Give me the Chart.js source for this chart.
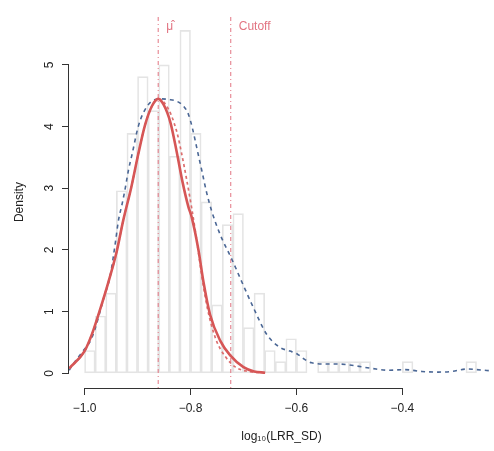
<!DOCTYPE html>
<html>
<head>
<meta charset="utf-8">
<script src="https://cdn.jsdelivr.net/npm/chart.js@4.4.0/dist/chart.umd.min.js"></script>
<style>
  html, body { margin: 0; padding: 0; background: #ffffff; }
  #wrap { width: 494px; height: 451px; }
</style>
</head>
<body>
<div id="wrap"><canvas id="c" width="494" height="451"></canvas></div>
<script>
// ---------- data ----------
const histBinCenters = [-0.99,-0.97,-0.95,-0.93,-0.91,-0.89,-0.87,-0.85,-0.83,-0.81,-0.79,-0.77,-0.75,-0.73,-0.71,-0.69,-0.67,-0.65,-0.63,-0.61,-0.59,-0.57,-0.55,-0.53,-0.51,-0.49,-0.47,-0.45,-0.43,-0.41,-0.39,-0.37,-0.35,-0.33,-0.31,-0.29,-0.27];
const histDensity    = [0.37,0.93,1.30,2.96,3.89,4.81,4.26,5.00,3.52,5.56,3.89,2.78,1.11,2.41,2.59,0.74,1.30,0.37,0.19,0.56,0.37,null,0.19,0.19,0.19,0.19,0.19,null,null,null,0.19,null,null,null,null,null,0.19];

const normalX = [-1.029,-1.000,-0.985,-0.972,-0.955,-0.940,-0.927,-0.912,-0.899,-0.886,-0.873,-0.861,-0.851,-0.838,-0.826,-0.815,-0.804,-0.798,-0.785,-0.7755,-0.763,-0.744,-0.725,-0.700,-0.680,-0.659];
const normalY = [0.08,0.36,0.66,1.00,1.48,1.95,2.48,3.01,3.54,4.02,4.33,4.45,4.36,4.07,3.59,3.10,2.70,2.54,2.00,1.48,0.95,0.53,0.29,0.10,0.03,0.01];

const fit2X = [-1.029,-1.000,-0.985,-0.972,-0.955,-0.940,-0.927,-0.912,-0.899,-0.886,-0.873,-0.861,-0.8415,-0.8257,-0.8162,-0.8068,-0.797,-0.789,-0.779,-0.768,-0.752,-0.735,-0.715,-0.690,-0.665];
const fit2Y = [0.08,0.36,0.66,1.00,1.48,1.95,2.48,3.01,3.54,4.02,4.33,4.45,4.28,3.91,3.54,3.12,2.64,2.20,1.60,1.05,0.55,0.28,0.10,0.03,0.01];

const kdeX = [-1.029,-1.024,-1.005,-0.986,-0.964,-0.9515,-0.942,-0.936,-0.929,-0.923,-0.917,-0.9106,-0.898,-0.882,-0.8666,-0.855,-0.8415,-0.8257,-0.813,-0.804,-0.796,-0.788,-0.7785,-0.769,-0.7596,-0.744,-0.722,-0.703,-0.681,-0.656,-0.631,-0.612,-0.598,-0.587,-0.571,-0.540,-0.5175,-0.4955,-0.4577,-0.4264,-0.395,-0.363,-0.332,-0.307,-0.2785,-0.260,-0.231];
const kdeY = [0.05,0.12,0.34,0.58,1.21,1.59,2.11,2.48,2.75,3.01,3.30,3.54,4.02,4.33,4.44,4.45,4.44,4.41,4.33,4.20,3.96,3.65,3.28,2.91,2.62,2.25,1.85,1.48,1.06,0.63,0.42,0.36,0.31,0.24,0.17,0.15,0.15,0.13,0.08,0.05,0.06,0.03,0.02,0.03,0.07,0.06,0.04];

const markerNames  = ['\u03BC\u0302', 'Cutoff'];
const markerValues = [-0.861, -0.724];

const xTicks = [-1.0, -0.8, -0.6, -0.4];
const yTicks = [0, 1, 2, 3, 4, 5];
const xLimits = [-1.0294, -0.227];
const yLimits = [-0.238, 5.79];

const xTitle = 'log\u2081\u2080(LRR_SD)';
const yTitle = 'Density';

// ---------- build datasets ----------
const toPts = (xs, ys) => xs.map((x, i) => ({ x: x, y: ys[i] }));
const FONT = "'Liberation Sans', Arial, Helvetica, sans-serif";
const markerColor = '#e27482';

const datasets = [
  {
    type: 'bar',
    data: toPts(histBinCenters, histDensity),
    backgroundColor: 'rgba(255,255,255,0)',
    borderColor: '#e4e4e4',
    borderWidth: 1,
    borderSkipped: false,
    barPercentage: 1.0,
    categoryPercentage: 1.0,
    order: 10
  },
  ...markerValues.map(v => ({
    type: 'line',
    data: [{ x: v, y: yLimits[0] }, { x: v, y: yLimits[1] }],
    borderColor: markerColor,
    borderWidth: 1,
    borderDash: [1, 3, 4, 3],
    pointRadius: 0,
    fill: false,
    order: 6
  })),
  {
    type: 'line',
    data: toPts(kdeX, kdeY),
    borderColor: '#4b6795',
    borderWidth: 1.6,
    borderDash: [4, 4],
    pointRadius: 0,
    fill: false,
    cubicInterpolationMode: 'monotone',
    order: 3
  },
  {
    type: 'line',
    data: toPts(fit2X, fit2Y),
    borderColor: '#dc6e6e',
    borderWidth: 1.7,
    borderDash: [3, 3],
    pointRadius: 0,
    fill: false,
    cubicInterpolationMode: 'monotone',
    order: 2
  },
  {
    type: 'line',
    data: toPts(normalX, normalY),
    borderColor: '#d65656',
    borderWidth: 2.6,
    pointRadius: 0,
    fill: false,
    cubicInterpolationMode: 'monotone',
    order: 1
  }
];

// ---------- plugins ----------
const axisLinesPlugin = {
  id: 'axisLines',
  afterDraw(chart) {
    const { ctx, chartArea, scales } = chart;
    const xs = scales.x, ys = scales.y;
    ctx.save();
    ctx.strokeStyle = '#333333';
    ctx.lineWidth = 1;
    ctx.setLineDash([]);
    ctx.beginPath();
    const x0 = xs.getPixelForValue(xTicks[0]), x1 = xs.getPixelForValue(xTicks[xTicks.length - 1]);
    ctx.moveTo(x0, chartArea.bottom + 0.5);
    ctx.lineTo(x1, chartArea.bottom + 0.5);
    const y0 = ys.getPixelForValue(yTicks[0]), y1 = ys.getPixelForValue(yTicks[yTicks.length - 1]);
    ctx.moveTo(chartArea.left - 0.5, y0);
    ctx.lineTo(chartArea.left - 0.5, y1);
    ctx.stroke();
    // marker labels
    ctx.fillStyle = markerColor;
    ctx.font = '12px ' + FONT;
    ctx.textAlign = 'left';
    ctx.textBaseline = 'middle';
    markerValues.forEach((v, i) => {
      const px = xs.getPixelForValue(v);
      ctx.fillText(markerNames[i], px + 8, chartArea.top + 10);
    });
    ctx.restore();
  }
};

const fmt = v => (v < 0 ? '\u2212' : '') + Math.abs(v).toFixed(1);

new Chart(document.getElementById('c'), {
  type: 'bar',
  data: { datasets: datasets },
  options: {
    responsive: false,
    animation: false,
    devicePixelRatio: 1,
    layout: { padding: { top: 8, left: 0, right: 0, bottom: 0 } },
    plugins: { legend: { display: false }, tooltip: { enabled: false } },
    scales: {
      x: {
        type: 'linear',
        min: xLimits[0],
        max: xLimits[1],
        offset: false,
        afterBuildTicks: s => { s.ticks = xTicks.map(v => ({ value: v })); },
        afterFit: s => { s.height = 63; },
        grid: { display: true, drawOnChartArea: false, drawTicks: true, tickLength: 7, color: '#333333', offset: false },
        border: { display: false },
        ticks: {
          autoSkip: false, maxRotation: 0, minRotation: 0, padding: 6,
          color: '#222222', font: { family: FONT, size: 12 },
          callback: v => fmt(v)
        },
        title: { display: true, text: xTitle, color: '#222222', font: { family: FONT, size: 12 }, padding: { top: 0, bottom: 7 } }
      },
      y: {
        type: 'linear',
        min: yLimits[0],
        max: yLimits[1],
        afterBuildTicks: s => { s.ticks = yTicks.map(v => ({ value: v })); },
        afterFit: s => { s.width = 69; },
        grid: { display: true, drawOnChartArea: false, drawTicks: true, tickLength: 7, color: '#333333' },
        border: { display: false },
        ticks: {
          autoSkip: false, minRotation: 90, maxRotation: 90, crossAlign: 'center', padding: 9,
          color: '#222222', font: { family: FONT, size: 12 },
          callback: v => String(v)
        },
        title: { display: true, text: yTitle, color: '#222222', font: { family: FONT, size: 12 }, padding: { top: 12, bottom: 0 } }
      }
    }
  },
  plugins: [axisLinesPlugin]
});
</script>
</body>
</html>
